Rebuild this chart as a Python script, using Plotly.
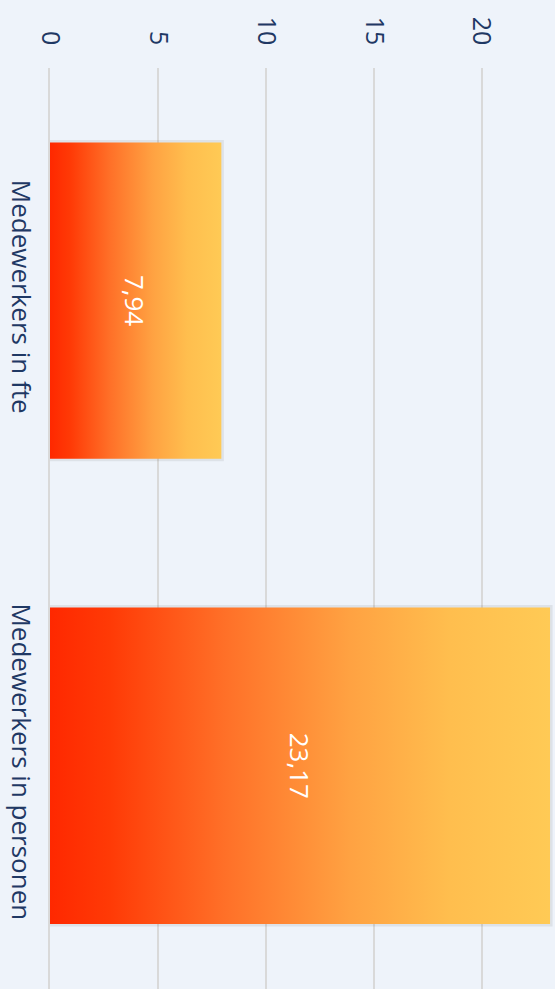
import plotly.graph_objects as go

categories = ["Medewerkers in fte", "Medewerkers in personen"]
values = [7.94, 23.17]
value_labels = ["7,94", "23,17"]
x_tick_values = [0, 5, 10, 15, 20]

BAR_WIDTH = 0.68
GRADIENT = [[0.0, "#FF2800"], [0.12, "#FF3A06"], [0.35, "#FF7028"],
            [0.6, "#FFA242"], [0.8, "#FFBE4E"], [1.0, "#FFCA55"]]
TEXT_COLOR = "#1F3864"
BG = "#EEF3FA"
FONT = "Open Sans"

fig = go.Figure()
for i, (cat, val, lbl) in enumerate(zip(categories, values, value_labels)):
    y0, y1 = i - BAR_WIDTH / 2, i + BAR_WIDTH / 2
    xs = [0, val, val, 0, 0]
    ys = [y0, y0, y1, y1, y0]
    # soft shadow
    fig.add_trace(go.Scatter(x=xs, y=ys, mode="lines",
                             line=dict(color="rgba(60,60,60,0.09)", width=5),
                             hoverinfo="skip", showlegend=False))
    # gradient bar
    fig.add_trace(go.Scatter(x=xs, y=ys, mode="lines", fill="toself",
                             line=dict(width=0, color="rgba(0,0,0,0)"),
                             fillgradient=dict(type="horizontal", colorscale=GRADIENT),
                             name=cat, showlegend=False))
    fig.add_annotation(x=val / 2, y=i, text=lbl, textangle=90, showarrow=False,
                       font=dict(color="white", size=26, family=FONT))

fig.update_layout(
    width=555, height=989,
    margin=dict(l=50, r=0, t=68, b=0),
    paper_bgcolor=BG, plot_bgcolor=BG,
    font=dict(family=FONT, color=TEXT_COLOR, size=26),
    showlegend=False,
)
fig.update_xaxes(side="top", range=[0, 23.4], tickvals=x_tick_values,
                 ticktext=[str(v) for v in x_tick_values],
                 tickangle=90, showgrid=True, gridcolor="#D9D9D9", gridwidth=1.5,
                 zeroline=False, showline=False, ticks="", automargin=False,
                 tickfont=dict(size=25, color=TEXT_COLOR, family=FONT),
                 ticklabelstandoff=18)
fig.update_yaxes(range=[1.48, -0.5], tickvals=list(range(len(categories))),
                 ticktext=categories, tickangle=90, showgrid=False,
                 zeroline=False, showline=True, linecolor="#D9D9D9", linewidth=1.5,
                 ticks="", automargin=False,
                 tickfont=dict(size=26, color=TEXT_COLOR, family=FONT),
                 ticklabelstandoff=5)

fig.write_html("out.html", config={"displayModeBar": False},
               post_script="document.body.style.margin='0';")
